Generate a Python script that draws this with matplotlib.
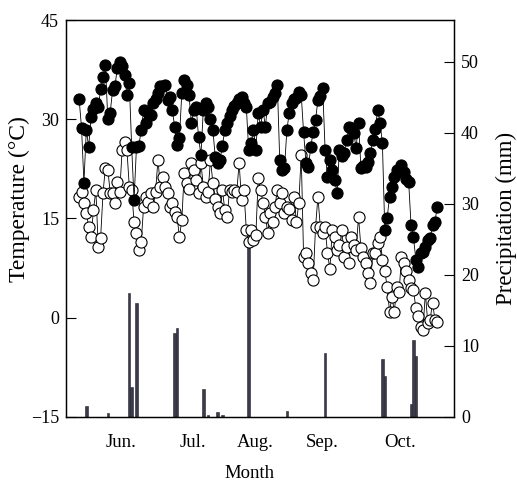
import numpy as np
import matplotlib.pyplot as plt

plt.rcParams['font.family'] = 'Liberation Serif'

# daily max temperature (filled circles), deg C
tmax = [33.0, 28.7, 20.4, 28.4, 25.8, 30.4, 31.5, 32.5, 31.9, 34.5,
        36.4, 38.2, 30.0, 31.0, 34.4, 35.0, 37.8, 38.7, 38.0, 36.7,
        33.7, 35.5, 25.8, 17.8, 25.8, 26.0, 28.4, 31.4, 29.5, 31.0,
        30.7, 32.5, 33.0, 34.0, 35.0,
        35.0, 35.2, 32.9, 33.4, 31.4, 28.9, 26.1, 27.2, 34.0, 36.0,
        35.2, 33.7, 29.5, 31.4, 31.9, 27.3, 24.6, 31.4, 32.5, 31.9,
        30.0, 28.4, 24.3, 23.4, 23.9, 26.0, 28.4, 29.5, 30.5, 31.4,
        32.0, 32.5, 33.0, 33.4, 32.5, 31.9, 25.4, 26.4,
        28.4, 25.4, 31.0, 28.9, 31.4, 28.9, 32.5, 32.6, 33.4, 34.0,
        35.2, 23.9, 22.4, 22.6, 28.4, 31.0, 32.5, 33.0, 33.2, 34.1,
        33.7, 28.0, 23.4, 22.8, 25.8, 28.1, 29.9, 32.9, 33.5, 34.7,
        25.4, 21.3, 23.9, 22.4, 20.8, 18.9, 25.4, 24.5, 24.9, 26.9,
        28.9, 28.7, 27.9, 25.7, 29.5, 22.7, 23.0, 22.8, 23.6, 24.9,
        26.9, 28.5, 31.4, 29.5, 26.4, 13.3, 15.1, 18.3, 19.8, 21.3,
        22.4, 22.0, 23.1, 22.0, 21.0, 20.5, 14.0, 12.2, 8.8, 7.6,
        9.8, 10.0, 10.7, 11.8, 12.0, 14.0, 14.5, 16.8]

# daily min temperature (open circles), deg C
tmin = [18.3, 19.0, 17.4, 15.9, 13.7, 12.2, 16.3, 19.3, 10.7, 12.1,
        18.9, 22.7, 22.4, 18.9, 18.9, 17.4, 20.5, 19.0, 25.4, 26.6,
        25.4, 19.8, 19.3, 14.4, 12.8, 10.3, 11.5, 16.8, 18.3, 17.5,
        18.9, 16.8, 19.0, 23.9, 19.8,
        21.3, 19.8, 18.9, 16.8, 17.4, 16.0, 15.3, 12.2, 14.8, 21.9,
        20.4, 19.5, 23.4, 22.4, 20.8, 18.9, 23.4, 19.8, 18.3, 19.0,
        23.9, 20.4, 18.0, 16.8, 15.9, 19.3, 16.3, 15.3, 19.3, 19.0,
        19.3, 19.0, 23.4, 17.8, 19.3, 13.3, 11.5, 13.3,
        11.8, 12.5, 21.1, 19.3, 17.4, 15.3, 12.8, 15.9, 14.5, 16.8,
        19.3, 17.4, 18.9, 15.9, 16.8, 16.5, 14.8, 18.3, 14.4, 17.4,
        24.6, 9.2, 9.8, 8.3, 6.8, 5.7, 13.7, 18.3, 13.7, 12.8,
        13.7, 9.8, 7.3, 13.3, 12.2, 10.3, 11.0, 13.3, 9.2, 10.7,
        8.3,
        12.2, 11.0, 10.3, 15.3, 10.6, 9.2, 8.3, 6.8, 5.3, 9.8,
        9.8, 11.3, 12.2, 8.8, 7.0, 4.7, 0.9, 3.2, 0.9, 4.7,
        3.9, 9.2, 8.3, 7.0, 5.7, 4.5, 4.2, 1.5, 0.2, -1.4,
        -1.8, 3.8, -0.8, -0.3, 2.3, -0.3, -0.6]

# rainy days (day index) and daily precipitation, mm
rain_day = [3, 12, 21, 22, 24, 40, 41, 52, 54, 58, 60, 71, 87, 103, 127, 128, 139, 140, 141]
rain_mm = [1.5, 0.6, 17.5, 4.2, 16.1, 11.8, 12.5, 3.9, 0.3, 0.7, 0.3, 24.5, 0.8, 9.0,
           8.2, 5.8, 1.8, 10.8, 8.6]

month_pos = [17.6, 47.7, 73.6, 101.7, 134.3]
month_labels = ['Jun.', 'Jul.', 'Aug.', 'Sep.', 'Oct.']

day = np.arange(len(tmax))

fig = plt.figure(figsize=(5.17, 4.82), dpi=100)
ax = fig.add_axes([0.1277, 0.1349, 0.7505, 0.8236])
ax2 = ax.twinx()

# precipitation bars behind the temperature points
ax2.bar(rain_day, rain_mm, width=1.0, color='#3b3b4c', edgecolor='#22222e', linewidth=0.4)
ax2.set_ylim(0, 55.9)
ax2.set_yticks([0, 10, 20, 30, 40, 50])
ax2.set_ylabel('Precipitation (mm)', fontsize=16.5)
ax2.yaxis.set_label_coords(1.108, 0.5)

ax.set_zorder(ax2.get_zorder() + 1)
ax.patch.set_visible(False)

ax.plot(day, tmin, '-', color='black', linewidth=0.6, marker='o', markersize=8,
        markerfacecolor='white', markeredgecolor='black', markeredgewidth=0.8)
ax.plot(day, tmax, '-', color='black', linewidth=0.6, marker='o', markersize=8,
        markerfacecolor='black', markeredgecolor='black', markeredgewidth=0.8)

ax.set_xlim(-5.5, 157)
ax.set_ylim(-15, 45)
ax.set_yticks([-15, 0, 15, 30, 45])
ax.set_xticks(month_pos)
ax.set_xticklabels(month_labels)
ax.set_xlabel('Month', fontsize=13.5)
ax.xaxis.set_label_coords(0.472, -0.122)
ax.set_ylabel('Temperature (\u00b0C)', fontsize=17)
ax.yaxis.set_label_coords(-0.093, 0.55)

ax.tick_params(axis='y', direction='in', length=7.5, width=0.8, labelsize=13, pad=5)
ax.tick_params(axis='x', length=0, labelsize=13.5, pad=12)
ax2.tick_params(axis='y', direction='in', length=7.5, width=0.8, labelsize=13, pad=5)

for a in (ax, ax2):
    for s in a.spines.values():
        s.set_linewidth(0.9)

fig.savefig('out.png', dpi=100)
